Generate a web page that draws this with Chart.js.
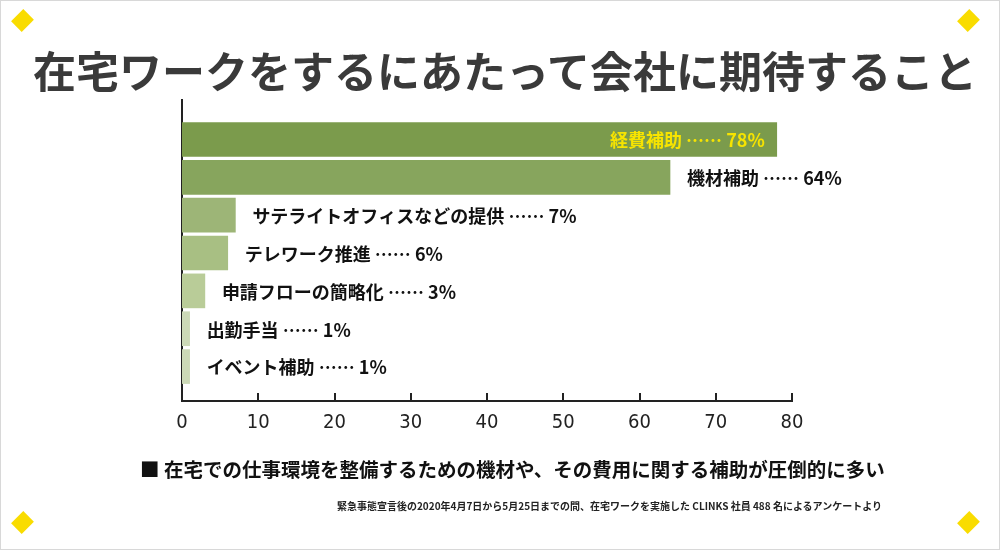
<!DOCTYPE html>
<html>
<head>
<meta charset="utf-8">
<script src="https://cdn.jsdelivr.net/npm/chart.js@4.4.1/dist/chart.umd.min.js"></script>
<style>
  html, body { margin: 0; padding: 0; background: #fff; }
  #wrap { position: relative; width: 1000px; height: 550px; overflow: hidden; background: #fff; box-sizing: border-box; border: 1px solid #d8d8d8; font-family: "Noto Sans CJK JP", "Noto Sans", sans-serif; }
  #c { position: absolute; left: -1px; top: -1px; }
  .title { position: absolute; left: 0; width: 1008px; top: 44px; text-align: center; font-size: 43px; line-height: 48px; font-weight: 700; color: #3a3a3a; white-space: nowrap; }
  .sub { position: absolute; left: 139px; top: 456px; font-size: 19.5px; line-height: 24px; font-weight: 700; color: #111; white-space: nowrap; }
  .note { position: absolute; right: 117px; top: 498px; font-size: 10px; line-height: 14px; font-weight: 700; color: #222; white-space: nowrap; }
  .dia { position: absolute; width: 15px; height: 15px; background: #f9dc00; transform: rotate(45deg) scaleY(1.15); }
</style>
</head>
<body>
<div id="wrap">
  <canvas id="c" width="1000" height="550"></canvas>
  <div class="title">在宅ワークをするにあたって会社に期待すること</div>
  <div class="sub">■ 在宅での仕事環境を整備するための機材や、その費用に関する補助が圧倒的に多い</div>
  <div class="note">緊急事態宣言後の2020年4月7日から5月25日までの間、在宅ワークを実施した CLINKS 社員 488 名によるアンケートより</div>
  <div class="dia" style="left:14px;top:12px"></div>
  <div class="dia" style="left:960px;top:12px"></div>
  <div class="dia" style="left:14px;top:514px"></div>
  <div class="dia" style="left:960px;top:514px"></div>
</div>
<script>
const categories = ["経費補助", "機材補助", "サテライトオフィスなどの提供", "テレワーク推進", "申請フローの簡略化", "出勤手当", "イベント補助"];
const values = [78, 64, 7, 6, 3, 1, 1];
const barColors = ["#7b9b4c", "#87a55d", "#9db577", "#a8bf83", "#b9cc98", "#ccd9b7", "#ccd9b7"];
const xTicks = [0, 10, 20, 30, 40, 50, 60, 70, 80];

const points = values.map((v, i) => ({ x: v, y: i }));

const labelPlugin = {
  id: 'barLabels',
  afterDatasetsDraw(chart) {
    const ctx = chart.ctx;
    const meta = chart.getDatasetMeta(0);
    ctx.save();
    ctx.font = 'bold 18px "Noto Sans CJK JP", sans-serif';
    ctx.textBaseline = 'middle';
    meta.data.forEach((bar, i) => {
      const text = categories[i] + ' …… ' + values[i] + '%';
      if (i === 0) {
        ctx.fillStyle = '#f7e400';
        ctx.textAlign = 'right';
        ctx.fillText(text, bar.x - 12, bar.y + 1);
      } else {
        ctx.fillStyle = '#111';
        ctx.textAlign = 'left';
        ctx.fillText(text, bar.x + 17, bar.y + 1);
      }
    });
    ctx.restore();
  }
};

const innerTicks = {
  id: 'innerTicks',
  afterDraw(chart) {
    const ctx = chart.ctx;
    const xs = chart.scales.x;
    const bottom = chart.chartArea.bottom;
    ctx.save();
    ctx.strokeStyle = '#222';
    ctx.lineWidth = 2;
    xTicks.forEach(t => {
      if (t === 0) return;
      const px = Math.round(xs.getPixelForValue(t));
      ctx.beginPath();
      ctx.moveTo(px, bottom);
      ctx.lineTo(px, bottom - 8);
      ctx.stroke();
    });
    ctx.restore();
  }
};

new Chart(document.getElementById('c'), {
  type: 'bar',
  data: {
    datasets: [{
      data: points,
      backgroundColor: barColors,
      borderWidth: 0,
      barThickness: 34
    }]
  },
  options: {
    indexAxis: 'y',
    responsive: false,
    animation: false,
    events: [],
    layout: { padding: { left: 182, top: 100, right: 208, bottom: 109 } },
    plugins: { legend: { display: false }, tooltip: { enabled: false }, title: { display: false } },
    scales: {
      x: {
        type: 'linear',
        min: 0, max: 80,
        afterBuildTicks: s => { s.ticks = xTicks.map(v => ({ value: v })); },
        afterFit: s => { s.height = 40; },
        grid: { display: false, drawTicks: false },
        border: { display: true, color: '#222', width: 2 },
        ticks: {
          padding: 10,
          color: '#222',
          font: { family: '"Liberation Sans Narrow", "DejaVu Sans Condensed", "Liberation Sans", sans-serif', size: 20 }
        }
      },
      y: {
        type: 'linear',
        offset: false,
        min: -1.044, max: 6.91,
        reverse: true,
        afterFit: s => { s.width = 0; },
        grid: { display: false, drawTicks: false },
        border: { display: true, color: '#222', width: 2 },
        ticks: { display: false }
      }
    }
  },
  plugins: [labelPlugin, innerTicks]
});
</script>
</body>
</html>
